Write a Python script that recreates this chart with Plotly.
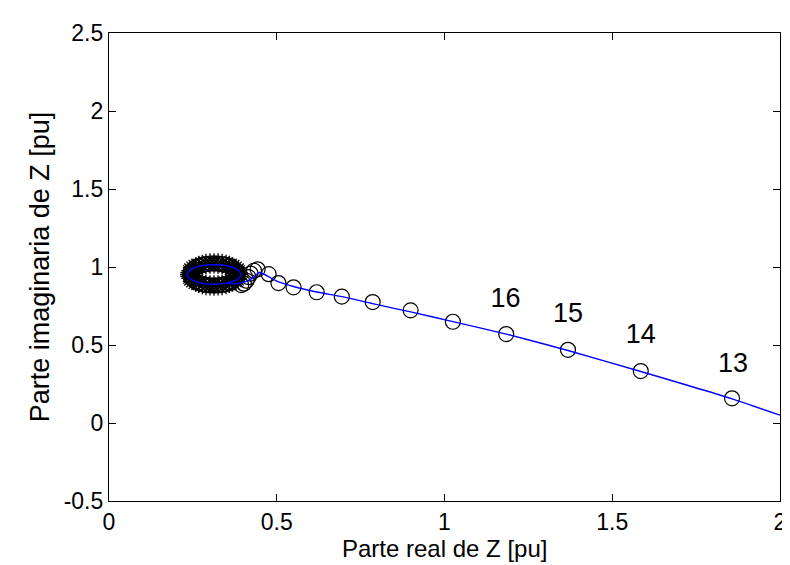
import plotly.graph_objects as go

# Trajectory circles (outside the loop)
traj_x = [1.857, 1.585, 1.368, 1.184, 1.025, 0.899, 0.786, 0.694, 0.619, 0.550, 0.505, 0.476, 0.443]
traj_y = [0.158, 0.333, 0.469, 0.570, 0.649, 0.722, 0.775, 0.810, 0.838, 0.870, 0.897, 0.954, 0.985]

# Transition circles going into the loop
trans_x = [0.432, 0.422, 0.416, 0.410, 0.402, 0.394]
trans_y = [0.976, 0.958, 0.935, 0.912, 0.893, 0.884]

# Dense loop circles
loop_x = [0.384, 0.383, 0.380, 0.374, 0.367, 0.359, 0.349, 0.337, 0.325, 0.313, 0.301, 0.289,
          0.278, 0.267, 0.259, 0.252, 0.246, 0.243, 0.242, 0.243, 0.246, 0.252, 0.259, 0.267,
          0.278, 0.289, 0.301, 0.313, 0.325, 0.337, 0.349, 0.359, 0.367, 0.374, 0.380, 0.383]
loop_y = [0.952, 0.964, 0.976, 0.988, 0.998, 1.006, 1.013, 1.019, 1.022, 1.023, 1.022, 1.019,
          1.013, 1.006, 0.998, 0.988, 0.976, 0.964, 0.952, 0.940, 0.928, 0.917, 0.906, 0.898,
          0.891, 0.885, 0.882, 0.881, 0.882, 0.885, 0.891, 0.898, 0.906, 0.917, 0.928, 0.940]

# Continuous blue curve
curve_x = [2.000, 1.857, 1.585, 1.368, 1.184, 1.025, 0.899, 0.786, 0.694, 0.619, 0.550, 0.500, 0.448,
           0.430, 0.405, 0.375, 0.353, 0.327, 0.299, 0.273, 0.252, 0.238, 0.233, 0.238, 0.252, 0.273,
           0.299, 0.327, 0.353, 0.374, 0.388, 0.393, 0.388, 0.374, 0.353, 0.327]
curve_y = [0.050, 0.155, 0.330, 0.465, 0.570, 0.650, 0.712, 0.765, 0.810, 0.840, 0.875, 0.910, 0.965,
           0.930, 0.905, 0.893, 0.897, 0.890, 0.890, 0.897, 0.912, 0.930, 0.952, 0.974, 0.992, 1.007,
           1.014, 1.014, 1.007, 0.992, 0.974, 0.952, 0.930, 0.912, 0.897, 0.890]

# Point labels
label_text = ["13", "14", "15", "16"]
label_x = [1.860, 1.585, 1.368, 1.182]
label_y = [0.372, 0.555, 0.690, 0.790]

x_ticks = [0, 0.5, 1, 1.5, 2]
x_tick_text = ["0", "0.5", "1", "1.5", "2"]
y_ticks = [-0.5, 0, 0.5, 1, 1.5, 2, 2.5]
y_tick_text = ["-0.5", "0", "0.5", "1", "1.5", "2", "2.5"]
x_title = "Parte real de Z [pu]"
y_title = "Parte imaginaria de Z [pu]"

FONT = "Liberation Sans, Arial, Helvetica, sans-serif"
FS = 27
TFS = 23

fig = go.Figure()

circle_marker = dict(symbol="circle-open", size=15, color="black", line=dict(width=1.2, color="black"))

fig.add_trace(go.Scatter(x=loop_x, y=loop_y, mode="markers",
                         marker=dict(symbol="asterisk-open", size=17, color="black", line=dict(width=1.3, color="black")),
                         showlegend=False, hoverinfo="skip"))
fig.add_trace(go.Scatter(x=loop_x, y=loop_y, mode="markers", marker=circle_marker, showlegend=False, hoverinfo="skip"))
fig.add_trace(go.Scatter(x=trans_x, y=trans_y, mode="markers", marker=circle_marker, showlegend=False, hoverinfo="skip"))
fig.add_trace(go.Scatter(x=traj_x, y=traj_y, mode="markers", marker=circle_marker, showlegend=False, hoverinfo="skip"))
fig.add_trace(go.Scatter(x=curve_x, y=curve_y, mode="lines", line=dict(color="#0000FF", width=1.4, shape="spline", smoothing=0.6),
                         showlegend=False, hoverinfo="skip"))
fig.add_trace(go.Scatter(x=label_x, y=label_y, mode="text", text=label_text,
                         textfont=dict(family=FONT, size=FS, color="black"), showlegend=False, hoverinfo="skip"))

axis_common = dict(
    showgrid=False, zeroline=False, showline=True, linecolor="black", linewidth=1.2,
    mirror="ticks", ticks="inside", ticklen=7, tickcolor="black", tickwidth=1,
    tickfont=dict(family=FONT, size=TFS, color="black"),
)

fig.update_xaxes(range=[0, 2], tickvals=x_ticks, ticktext=x_tick_text, **axis_common)
fig.update_yaxes(range=[-0.5, 2.5], tickvals=y_ticks, ticktext=y_tick_text,
                 title=dict(text=y_title, font=dict(family=FONT, size=FS, color="black"), standoff=6),
                 **axis_common)

fig.add_annotation(text=x_title, xref="paper", yref="paper", x=0.5, y=-0.101,
                   xanchor="center", yanchor="middle", showarrow=False,
                   font=dict(family=FONT, size=24, color="black"))

fig.update_layout(
    width=790, height=565,
    margin=dict(l=101, r=18, t=20, b=72),
    paper_bgcolor="white", plot_bgcolor="white",
)

fig.write_html("out.html")
